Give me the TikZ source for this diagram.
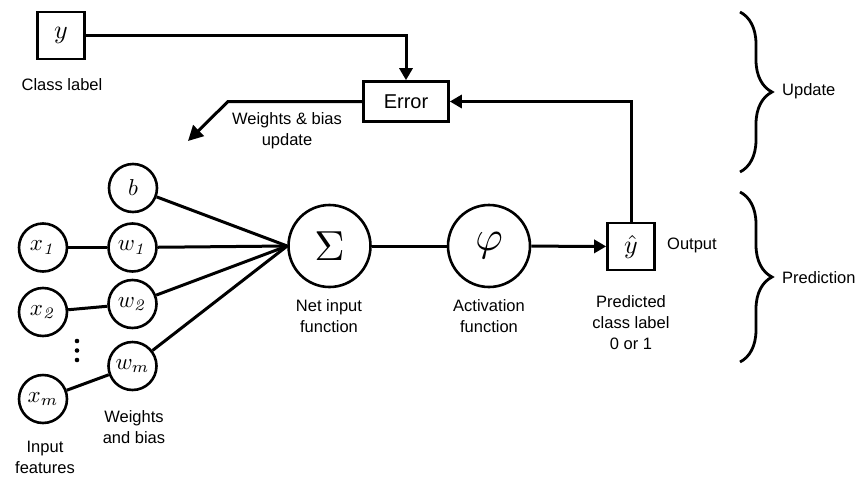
\documentclass[tikz,border=0pt]{standalone}
\usepackage{graphicx}
\usepackage[no-math]{fontspec}
\setmainfont{Liberation Sans}
\usetikzlibrary{arrows.meta,decorations.pathreplacing}
\newcommand{\cmath}[2]{\scalebox{#1}{$#2$}}
\begin{document}
\begin{tikzpicture}[x=1pt,y=-1pt,
  conn/.style={line width=3pt},
  lbl/.style={font=\fontsize{16.5}{21}\selectfont, align=center, inner sep=0pt},
  sq/.style={draw, line width=2.6pt, minimum size=47pt, inner sep=0pt, font=\normalsize},
  neuron/.style={draw, circle, line width=2.6pt, minimum size=48pt, inner sep=0pt, font=\normalsize},
  bigneuron/.style={draw, circle, line width=2.6pt, minimum size=82pt, inner sep=0pt, font=\normalsize},
  arr/.style={conn, -{Triangle[length=12pt,width=13pt]}},
  bigarr/.style={conn, -{Triangle[length=15pt,width=15pt]}},
  bracestyle/.style={decorate, decoration={brace, amplitude=32pt}, line width=2.8pt}
]
\useasboundingbox (0,0) rectangle (859,477);

% top part
\node[sq] (y) at (61,35.5) {\cmath{2.6}{y}};
\node[lbl] (ylab) at (62,85) {Class label};
\node[draw, line width=2.6pt, minimum width=85pt, minimum height=40pt, inner sep=0pt, font=\fontsize{20}{24}\selectfont] (err) at (406,101.5) {Error};
\coordinate (corner) at (228,101.5);
\coordinate (tip) at (188,141);
\node[lbl] (wupd) at (287,131) {Weights \& bias\\update};

% neurons
\node[neuron] (b) at (133,188) {\cmath{2.3}{b}};
\node[neuron] (x1) at (43,247.5) {\cmath{2.3}{x_{\mathit{1}}}};
\node[neuron] (w1) at (132.5,247.5) {\cmath{2.3}{w_{\mathit{1}}}};
\node[neuron] (x2) at (43,312) {\cmath{2.3}{x_{\mathit{2}}}};
\node[neuron] (w2) at (132.5,304) {\cmath{2.3}{w_{\mathit{2}}}};
\node[neuron] (wm) at (132.5,366) {\cmath{2.3}{w_m}};
\node[neuron] (xm) at (43,399) {\cmath{2.3}{x_m}};
\fill (77,341) circle (2.3pt) (77,350.5) circle (2.3pt) (77,360) circle (2.3pt);

\node[lbl] (wblab) at (134,427) {Weights\\and bias};
\node[lbl] (inlab) at (45,457) {Input\\features};

\node[bigneuron] (sum) at (329.5,246) {\cmath{4.2}{\Sigma}};
\node[bigneuron] (phi) at (489,246) {\cmath{4.2}{\varphi}};
\node[sq] (yhat) at (631,246.5) {\cmath{2.6}{\hat{y}}};

\node[lbl, anchor=west] (outlab) at (667,245) {Output};
\node[lbl] (sumlab) at (329,316) {Net input\\function};
\node[lbl] (philab) at (489,316) {Activation\\function};
\node[lbl] (yhatlab) at (631,323) {Predicted\\class label\\0 or 1};

% connectors
\draw[arr] (y.east) -| (err.north);
\draw[arr] (yhat.north) |- (err.east);
\draw[bigarr] (err.west) -- (corner) -- (tip);

\draw[conn] (x1) -- (w1);
\draw[conn] (x2) -- (w2);
\draw[conn] (xm) -- (wm);
\draw[conn] (b) -- (sum.west);
\draw[conn] (w1) -- (sum.west);
\draw[conn] (w2) -- (sum.west);
\draw[conn] (wm) -- (sum.west);
\draw[conn] (sum) -- (phi);
\draw[arr] (phi) -- (yhat);

% braces
\coordinate (u1) at (740,12);
\coordinate (u2) at (740,172);
\coordinate (p1) at (740,192);
\coordinate (p2) at (740,362);
\draw[bracestyle] (u1) -- (u2);
\draw[bracestyle] (p1) -- (p2);
\node[lbl, anchor=west] (updlab) at (782,91) {Update};
\node[lbl, anchor=west] (predlab) at (782,278) {Prediction};
\end{tikzpicture}
\end{document}
